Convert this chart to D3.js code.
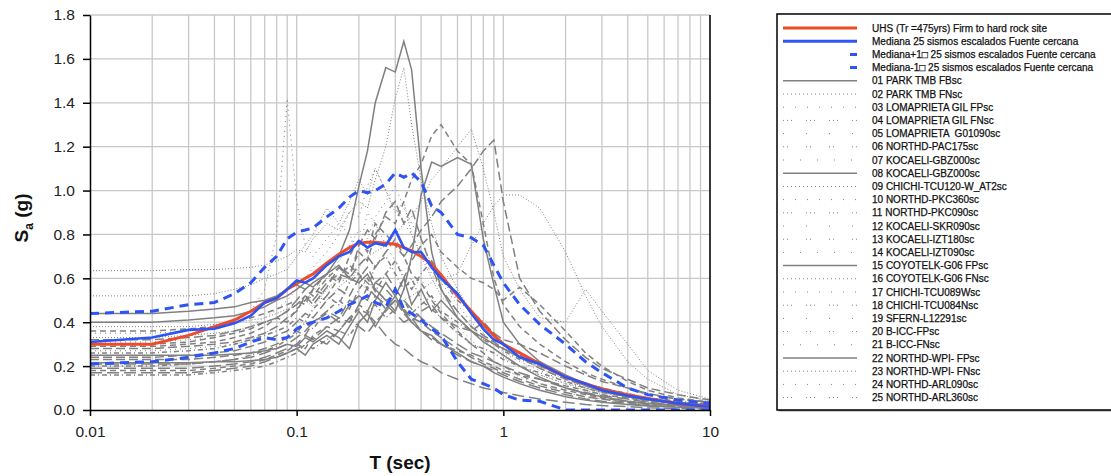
<!DOCTYPE html>
<html>
<head>
<meta charset="utf-8">
<script src="https://cdn.jsdelivr.net/npm/d3@7"></script>
<style>
body { margin: 0; background: #fff; }
text { font-family: Arial, "Liberation Sans", sans-serif; }
</style>
</head>
<body>
<div id="chart"></div>
<script>
// Periods (s) shared by every spectrum
const periods = [0.01, 0.02, 0.03, 0.04, 0.05, 0.06, 0.07, 0.08, 0.09, 0.1,
    0.11, 0.12, 0.14, 0.16, 0.18, 0.2,
    0.22, 0.24, 0.27, 0.3, 0.33, 0.36, 0.4,
    0.45, 0.5, 0.6, 0.7, 0.8, 0.9, 1.0,
    1.2, 1.5, 2.0, 2.5, 3.0, 4.0, 5.0, 7.0, 10.0];

// UHS target spectrum
const uhs = [0.30, 0.30, 0.34, 0.38, 0.41, 0.45, 0.49, 0.51, 0.55, 0.575,
    0.60, 0.62, 0.67, 0.71, 0.74, 0.76,
    0.765, 0.765, 0.76, 0.755, 0.74, 0.725, 0.70,
    0.665, 0.615, 0.52, 0.45, 0.39, 0.34, 0.30,
    0.26, 0.21, 0.15, 0.12, 0.095, 0.07, 0.053, 0.03, 0.015];

// Median of 25 scaled records, and +/- 1 sigma
const median = [0.31, 0.33, 0.365, 0.37, 0.395, 0.43, 0.49, 0.51, 0.55, 0.59,
    0.58, 0.60, 0.66, 0.70, 0.72, 0.77,
    0.74, 0.76, 0.75, 0.82, 0.74, 0.72, 0.72,
    0.65, 0.60, 0.53, 0.44, 0.37, 0.32, 0.30,
    0.24, 0.21, 0.15, 0.12, 0.09, 0.065, 0.05, 0.03, 0.015];
const medianPlus = [0.44, 0.45, 0.48, 0.49, 0.53, 0.58, 0.65, 0.70, 0.78, 0.81,
    0.82, 0.83, 0.88, 0.92, 0.97, 1.00,
    0.99, 1.00, 1.03, 1.08, 1.06, 1.08, 1.04,
    0.93, 0.90, 0.80, 0.785, 0.75, 0.66, 0.58,
    0.48, 0.39, 0.30, 0.22, 0.17, 0.10, 0.07, 0.045, 0.03];
const medianMinus = [0.21, 0.22, 0.24, 0.26, 0.28, 0.31, 0.33, 0.32, 0.33, 0.37,
    0.39, 0.40, 0.42, 0.45, 0.48, 0.50,
    0.52, 0.49, 0.47, 0.55, 0.46, 0.44, 0.41,
    0.37, 0.34, 0.22, 0.14, 0.12, 0.10, 0.07,
    0.045, 0.04, 0.0, 0.0, 0.0, 0.0, 0.0, 0.0, 0.0];

const recordNames = ["01 PARK TMB FBsc", "02 PARK TMB FNsc", "03 LOMAPRIETA GIL FPsc",
    "04 LOMAPRIETA GIL FNsc", "05 LOMAPRIETA  G01090sc", "06 NORTHD-PAC175sc",
    "07 KOCAELI-GBZ000sc", "08 KOCAELI-GBZ000sc", "09 CHICHI-TCU120-W_AT2sc",
    "10 NORTHD-PKC360sc", "11 NORTHD-PKC090sc", "12 KOCAELI-SKR090sc",
    "13 KOCAELI-IZT180sc", "14 KOCAELI-IZT090sc", "15 COYOTELK-G06 FPsc",
    "16 COYOTELK-G06 FNsc", "17 CHICHI-TCU089Wsc", "18 CHICHI-TCU084Nsc",
    "19 SFERN-L12291sc", "20 B-ICC-FPsc", "21 B-ICC-FNsc", "22 NORTHD-WPI- FPsc",
    "23 NORTHD-WPI- FNsc", "24 NORTHD-ARL090sc", "25 NORTHD-ARL360sc"];

// Scaled record spectra, one row per record (same order as recordNames)
const records = [
    [0.44,0.44,0.45,0.46,0.47,0.49,0.50,0.52,0.55,0.57, 0.55,0.58,0.62,0.70,0.82,1.02, 1.18,1.40,1.56,1.54,1.68,1.55,1.10, 0.72,0.55,0.42,0.36,0.31,0.28,0.25, 0.20,0.15,0.10,0.075,0.06,0.04,0.03,0.02,0.012],
    [0.52,0.52,0.52,0.53,0.55,0.57,0.60,0.62,0.64,0.70, 0.75,0.80,0.92,0.85,0.95,1.05, 0.98,1.10,1.00,0.90,0.95,0.80,0.70, 0.60,0.52,0.45,0.38,0.32,0.28,0.24, 0.20,0.16,0.12,0.10,0.08,0.06,0.045,0.03,0.02],
    [0.30,0.30,0.31,0.33,0.35,0.37,0.40,0.42,0.45,0.50, 0.48,0.55,0.62,0.58,0.70,0.78, 0.72,0.85,0.80,0.75,0.70,0.62,0.58, 0.50,0.44,0.36,0.30,0.26,0.22,0.20, 0.16,0.12,0.09,0.07,0.055,0.04,0.03,0.02,0.014],
    [0.28,0.28,0.29,0.30,0.31,0.33,0.35,0.38,0.42,0.45, 0.52,0.48,0.56,0.65,0.60,0.75, 0.82,0.78,0.90,0.95,0.85,0.92,0.78, 0.65,0.55,0.45,0.38,0.34,0.31,0.28, 0.24,0.19,0.14,0.11,0.09,0.07,0.05,0.035,0.025],
    [0.35,0.35,0.36,0.38,0.40,0.45,0.55,0.80,1.42,0.95, 0.75,0.70,0.78,0.85,0.80,0.72, 0.90,0.85,0.75,0.68,0.62,0.55,0.60, 0.50,0.45,0.38,0.32,0.26,0.22,0.19, 0.15,0.12,0.08,0.06,0.05,0.035,0.025,0.018,0.012],
    [0.26,0.26,0.27,0.28,0.30,0.32,0.34,0.36,0.38,0.42, 0.40,0.46,0.52,0.48,0.58,0.62, 0.55,0.66,0.70,0.62,0.55,0.60,0.50, 0.46,0.42,0.35,0.30,0.28,0.26,0.23, 0.20,0.17,0.13,0.10,0.08,0.06,0.045,0.03,0.02],
    [0.19,0.19,0.19,0.20,0.21,0.22,0.24,0.26,0.28,0.30, 0.34,0.32,0.38,0.42,0.40,0.48, 0.45,0.52,0.48,0.44,0.40,0.42,0.36, 0.32,0.30,0.25,0.22,0.20,0.18,0.16, 0.13,0.10,0.07,0.05,0.04,0.03,0.02,0.015,0.01],
    [0.40,0.40,0.41,0.42,0.43,0.45,0.47,0.50,0.52,0.55, 0.58,0.56,0.62,0.66,0.60,0.58, 0.62,0.55,0.50,0.45,0.55,0.70,0.98, 1.13,1.11,1.15,1.12,0.78,0.57,0.40, 0.30,0.22,0.15,0.11,0.085,0.06,0.045,0.03,0.02],
    [0.635,0.635,0.64,0.64,0.645,0.65,0.66,0.68,0.70,0.73, 0.72,0.78,0.85,0.82,0.90,0.95, 0.92,1.05,1.20,1.42,1.56,1.30,1.05, 0.85,0.70,0.55,0.45,0.38,0.33,0.30, 0.24,0.19,0.14,0.10,0.08,0.06,0.045,0.03,0.02],
    [0.36,0.36,0.37,0.38,0.40,0.42,0.44,0.46,0.48,0.50, 0.55,0.52,0.60,0.65,0.62,0.72, 0.68,0.80,0.88,0.85,0.95,1.05,1.12, 1.25,1.30,1.18,1.12,0.85,0.60,0.48, 0.38,0.30,0.22,0.17,0.14,0.10,0.07,0.05,0.035],
    [0.24,0.24,0.25,0.26,0.27,0.29,0.31,0.34,0.36,0.40, 0.44,0.42,0.50,0.55,0.52,0.60, 0.65,0.58,0.55,0.50,0.46,0.42,0.40, 0.36,0.33,0.28,0.24,0.21,0.19,0.17, 0.14,0.11,0.08,0.06,0.05,0.035,0.025,0.018,0.012],
    [0.31,0.31,0.32,0.33,0.35,0.38,0.42,0.46,0.50,0.55, 0.60,0.65,0.72,0.80,0.90,0.88, 1.02,1.10,1.00,0.92,0.85,0.80,0.72, 0.62,0.55,0.45,0.38,0.32,0.28,0.25, 0.20,0.16,0.12,0.09,0.07,0.05,0.035,0.025,0.016],
    [0.20,0.20,0.21,0.22,0.23,0.25,0.27,0.29,0.32,0.35, 0.40,0.37,0.45,0.50,0.46,0.55, 0.60,0.54,0.62,0.68,0.60,0.55,0.62, 0.68,0.60,0.50,0.45,0.40,0.35,0.30, 0.25,0.20,0.15,0.12,0.10,0.07,0.05,0.035,0.025],
    [0.17,0.17,0.17,0.18,0.19,0.20,0.22,0.24,0.26,0.28, 0.30,0.33,0.30,0.36,0.42,0.38, 0.35,0.40,0.34,0.30,0.28,0.25,0.22, 0.20,0.17,0.14,0.12,0.10,0.09,0.08, 0.065,0.05,0.035,0.025,0.02,0.015,0.01,0.007,0.005],
    [0.25,0.25,0.25,0.25,0.255,0.26,0.27,0.28,0.30,0.29, 0.33,0.31,0.36,0.33,0.28,0.40, 0.44,0.38,0.46,0.52,0.45,0.40,0.36, 0.34,0.30,0.26,0.22,0.20,0.17,0.15, 0.12,0.09,0.06,0.045,0.035,0.025,0.018,0.012,0.008],
    [0.38,0.38,0.38,0.39,0.40,0.41,0.42,0.44,0.46,0.48, 0.50,0.52,0.50,0.56,0.60,0.58, 0.55,0.52,0.50,0.48,0.50,0.52,0.55, 0.58,0.60,0.62,0.75,0.85,0.93,0.98, 0.98,0.92,0.72,0.52,0.38,0.22,0.14,0.07,0.04],
    [0.29,0.29,0.30,0.31,0.33,0.35,0.38,0.42,0.40,0.46, 0.50,0.55,0.52,0.60,0.66,0.62, 0.58,0.55,0.50,0.52,0.60,0.68,0.75, 0.80,0.72,0.65,0.60,0.58,0.55,0.50, 0.56,0.48,0.36,0.26,0.20,0.13,0.09,0.055,0.035],
    [0.23,0.23,0.23,0.24,0.25,0.26,0.28,0.30,0.33,0.36, 0.34,0.40,0.45,0.42,0.50,0.48, 0.56,0.52,0.46,0.50,0.44,0.40,0.45, 0.48,0.42,0.38,0.36,0.40,0.35,0.32, 0.30,0.26,0.20,0.16,0.13,0.10,0.075,0.05,0.035],
    [0.27,0.27,0.28,0.29,0.30,0.32,0.35,0.38,0.42,0.45, 0.50,0.54,0.60,0.68,0.75,0.82, 0.78,0.88,0.95,1.02,0.92,0.85,0.78, 0.66,0.58,0.48,0.40,0.35,0.30,0.26, 0.22,0.18,0.13,0.10,0.08,0.06,0.04,0.03,0.02],
    [0.16,0.16,0.16,0.17,0.18,0.19,0.20,0.22,0.24,0.26, 0.30,0.28,0.32,0.36,0.34,0.40, 0.44,0.48,0.42,0.46,0.50,0.44,0.48, 0.52,0.45,0.40,0.36,0.32,0.30,0.27, 0.23,0.20,0.15,0.12,0.10,0.075,0.055,0.04,0.028],
    [0.21,0.21,0.21,0.22,0.23,0.24,0.26,0.28,0.30,0.33, 0.36,0.40,0.44,0.40,0.48,0.52, 0.50,0.58,0.62,0.55,0.50,0.46,0.42, 0.38,0.35,0.30,0.26,0.24,0.22,0.20, 0.17,0.14,0.10,0.08,0.065,0.05,0.035,0.025,0.018],
    [0.215,0.215,0.215,0.22,0.22,0.225,0.23,0.24,0.26,0.28, 0.25,0.30,0.34,0.30,0.38,0.45, 0.40,0.50,0.58,0.52,0.60,0.48,0.55, 0.45,0.50,0.42,0.36,0.33,0.30,0.28, 0.24,0.22,0.16,0.12,0.10,0.07,0.05,0.035,0.022],
    [0.33,0.33,0.34,0.35,0.36,0.38,0.40,0.42,0.45,0.48, 0.50,0.47,0.55,0.60,0.58,0.65, 0.70,0.72,0.75,0.80,0.85,0.88,0.95, 1.05,1.10,1.20,1.28,1.10,0.90,0.70, 0.55,0.42,0.40,0.55,0.45,0.30,0.18,0.09,0.05],
    [0.18,0.18,0.18,0.19,0.20,0.21,0.23,0.25,0.27,0.30, 0.28,0.34,0.38,0.36,0.42,0.46, 0.44,0.40,0.45,0.50,0.46,0.40,0.36, 0.33,0.30,0.27,0.25,0.22,0.20,0.18, 0.16,0.14,0.11,0.09,0.07,0.055,0.04,0.03,0.02],
    [0.32,0.32,0.33,0.34,0.36,0.38,0.40,0.42,0.45,0.48, 0.52,0.50,0.58,0.62,0.60,0.66, 0.70,0.65,0.72,0.78,0.70,0.75,0.82, 0.88,0.95,1.02,1.10,1.18,1.23,0.95, 0.60,0.45,0.32,0.24,0.19,0.14,0.10,0.07,0.045]
];

const yTicks = [0.0, 0.2, 0.4, 0.6, 0.8, 1.0, 1.2, 1.4, 1.6, 1.8];
const xTicks = [0.01, 0.1, 1, 10];
const xTickLabels = ["0.01", "0.1", "1", "10"];

const legendLabels = ["UHS (Tr =475yrs) Firm to hard rock site",
    "Mediana 25 sismos escalados Fuente cercana",
    "Mediana+1\u25A1 25 sismos escalados Fuente cercana",
    "Mediana-1\u25A1 25 sismos escalados Fuente cercana"].concat(recordNames);

// line styles cycle every 7 records
const plotDash = [null, "1,2", "6,4", "9,4", "1,4", "5,3,1,3", "12,5"];
const legendDash = [null, "1,3", "1,11", "1,3,1,3,1,14", "1,22", "1,3,1,18", "1,16"];
const gray = "#808080";
const red = "#ee4b2b";
const blue = "#2e54f4";

const margin = { top: 15, right: 401, bottom: 66, left: 90 };
const width = 1111 - margin.left - margin.right;
const height = 476 - margin.top - margin.bottom;

const svgRoot = d3.select("#chart")
    .append("svg")
    .attr("width", 1111)
    .attr("height", 476);

const svg = svgRoot.append("g")
    .attr("transform", "translate(" + margin.left + "," + margin.top + ")");

const x = d3.scaleLog().domain([0.01, 10]).range([0, width]);
const y = d3.scaleLinear().domain([0, 1.8]).range([height, 0]);

// grid
svg.append("g")
    .selectAll("line")
    .data(x.ticks().filter(d => d > 0.01))
    .enter().append("line")
    .attr("x1", d => x(d)).attr("x2", d => x(d))
    .attr("y1", 0).attr("y2", height)
    .attr("stroke", "#c8c8c8")
    .attr("stroke-width", 1.3);

svg.append("g")
    .selectAll("line")
    .data(yTicks.filter(d => d > 0))
    .enter().append("line")
    .attr("x1", 0).attr("x2", width)
    .attr("y1", d => y(d)).attr("y2", d => y(d))
    .attr("stroke", "#c8c8c8")
    .attr("stroke-width", 1.3);

svgRoot.append("clipPath").attr("id", "plot-clip")
    .append("rect").attr("x", 0).attr("y", -2).attr("width", width).attr("height", height + 2);

const line = d3.line()
    .x((d, i) => x(periods[i]))
    .y(d => y(d));

const plot = svg.append("g").attr("clip-path", "url(#plot-clip)");

// records
plot.selectAll(".record")
    .data(records)
    .enter().append("path")
    .attr("class", "record")
    .attr("d", line)
    .attr("fill", "none")
    .attr("stroke", gray)
    .attr("stroke-width", (d, i) => i % 7 === 1 || i % 7 === 4 ? 1 : 1.5)
    .attr("stroke-dasharray", (d, i) => plotDash[i % 7]);

plot.append("path").datum(uhs)
    .attr("d", line).attr("fill", "none")
    .attr("stroke", red).attr("stroke-width", 3);

plot.append("path").datum(median)
    .attr("d", line).attr("fill", "none")
    .attr("stroke", blue).attr("stroke-width", 2.6);

plot.selectAll(".sigma")
    .data([medianPlus, medianMinus])
    .enter().append("path")
    .attr("class", "sigma")
    .attr("d", line).attr("fill", "none")
    .attr("stroke", blue).attr("stroke-width", 3)
    .attr("stroke-dasharray", "9,6");

// axes
const yAxis = svg.append("g")
    .call(d3.axisLeft(y).tickValues(yTicks).tickFormat(d3.format(".1f")).tickSize(7).tickSizeOuter(0).tickPadding(8));

const xAxis = svg.append("g")
    .attr("transform", "translate(0," + height + ")")
    .call(d3.axisBottom(x).tickValues(xTicks).tickFormat((d, i) => xTickLabels[i]).tickSize(6).tickSizeOuter(0).tickPadding(10));

[yAxis, xAxis].forEach(a => {
    a.selectAll("path, line").attr("stroke", "#000").attr("stroke-width", 1.5);
    a.selectAll("text").attr("font-size", 15.5).attr("fill", "#222")
        .attr("font-family", "Arial, 'Liberation Sans', sans-serif");
});

svg.append("line")
    .attr("x1", width).attr("x2", width)
    .attr("y1", 0).attr("y2", height)
    .attr("stroke", "#000").attr("stroke-width", 1.5);

// axis titles
const yTitle = svgRoot.append("text")
    .attr("transform", "translate(28,218) rotate(-90)")
    .attr("text-anchor", "middle")
    .attr("font-size", 19).attr("font-weight", "bold").attr("fill", "#111");
yTitle.append("tspan").text("S");
yTitle.append("tspan").attr("font-size", 12).attr("dy", 5).text("a");
yTitle.append("tspan").attr("dy", -5).text(" (g)");

svgRoot.append("text")
    .attr("x", margin.left + width / 2).attr("y", 469)
    .attr("text-anchor", "middle")
    .attr("font-size", 19).attr("font-weight", "bold").attr("fill", "#111")
    .text("T (sec)");

// legend
const legend = svgRoot.append("g").attr("transform", "translate(777,14)");

legend.append("rect")
    .attr("x", 1.5).attr("y", 1.5).attr("width", 340).attr("height", 396)
    .attr("fill", "#999");
legend.append("rect")
    .attr("width", 340).attr("height", 396)
    .attr("fill", "#fff").attr("stroke", "#000").attr("stroke-width", 1.5);

const rows = legend.selectAll(".legend-row")
    .data(legendLabels)
    .enter().append("g")
    .attr("class", "legend-row")
    .attr("transform", (d, i) => "translate(0," + (14 + i * 13.2) + ")");

rows.append("line")
    .attr("x1", 6).attr("x2", 80)
    .attr("stroke", (d, i) => i === 0 ? red : i < 4 ? blue : gray)
    .attr("stroke-width", (d, i) => i < 4 ? 3 : (i - 4) % 7 === 0 ? 1.5 : 1)
    .attr("stroke-dasharray", (d, i) => i === 2 || i === 3 ? "0,67,7,20" : i < 4 ? null : legendDash[(i - 4) % 7]);

rows.append("text")
    .attr("x", 95).attr("y", 3.5)
    .attr("font-size", 10).attr("fill", "#111")
    .attr("stroke", "#111").attr("stroke-width", 0.25)
    .style("white-space", "pre")
    .text(d => d);
</script>
</body>
</html>
